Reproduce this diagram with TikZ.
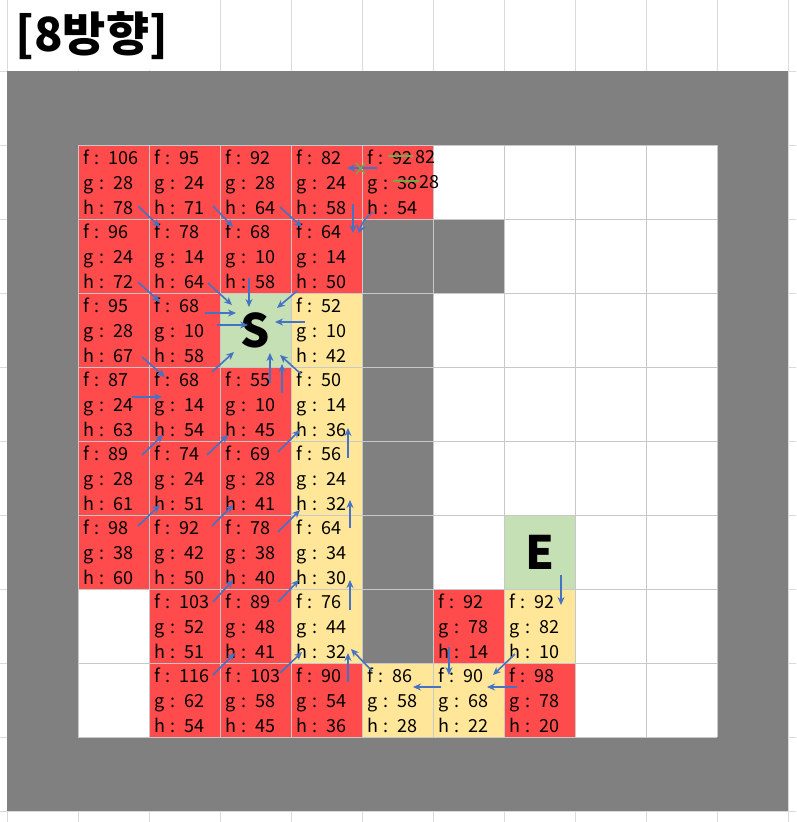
\documentclass[tikz,border=0pt]{standalone}
\usepackage{fontspec}
\setmainfont{Noto Sans CJK KR}
\usetikzlibrary{arrows.meta}

\definecolor{cellred}{RGB}{255,75,75}
\definecolor{cellyellow}{RGB}{255,230,153}
\definecolor{cellgreen}{RGB}{197,224,180}
\definecolor{wallgray}{RGB}{128,128,128}
\definecolor{linegray}{RGB}{200,200,200}
\definecolor{sheetgray}{RGB}{218,218,218}
\definecolor{arrowblue}{RGB}{68,114,196}
\definecolor{markgreen}{RGB}{112,173,71}

\newcommand{\fgh}[3]{f : #1\\g : #2\\h : #3}

\tikzset{
  vals/.style={draw=linegray, line width=0.8pt, inner xsep=5pt, inner ysep=0pt,
    text width=61pt, align=left, text height=19.5pt, text depth=54.5pt,
    font=\fontsize{18}{25}\selectfont},
  redcell/.style={vals, fill=cellred},
  yelcell/.style={vals, fill=cellyellow},
  endcell/.style={draw=linegray, line width=0.8pt, fill=cellgreen, inner sep=0pt,
    minimum width=71pt, minimum height=74pt, font=\fontsize{46}{46}\bfseries},
  wall/.style={draw=linegray, line width=0.8pt, fill=wallgray, inner sep=0pt,
    minimum width=71pt, minimum height=74pt},
  toparent/.style={draw=arrowblue, line width=1.6pt, -{Stealth[length=8pt,width=7pt]}},
  strike/.style={draw=markgreen, line width=1.3pt}
}

\begin{document}
\begin{tikzpicture}[x=1pt,y=-1pt]
\useasboundingbox (0,0) rectangle (796,822);

% sheet
\foreach \i in {0,...,11} \draw[sheetgray] (7+71*\i,0) -- (7+71*\i,822);
\foreach \j in {0,...,10} \draw[sheetgray] (0,71+74*\j) -- (796,71+74*\j);
\fill[white] (7.6,0) rectangle (219.4,70.4);
\node[font=\fontsize{47}{47}\bfseries, anchor=west] (title) at (12,36) {[8방향]};

% map
\fill[wallgray] (7,71) rectangle (788,811);
\fill[white] (78,145) rectangle (717,737);
\foreach \i in {0,...,9} \draw[linegray, line width=0.8pt] (78+71*\i,145) -- (78+71*\i,737);
\foreach \j in {0,...,8} \draw[linegray, line width=0.8pt] (78,145+74*\j) -- (717,145+74*\j);

\node[wall] (w41) at (397.5,256) {};
\node[wall] (w51) at (468.5,256) {};
\node[wall] (w42) at (397.5,330) {};
\node[wall] (w43) at (397.5,404) {};
\node[wall] (w44) at (397.5,478) {};
\node[wall] (w45) at (397.5,552) {};
\node[wall] (w46) at (397.5,626) {};

\node[endcell] (start) at (255.5,330) {S};
\node[endcell] (goal) at (539.5,552) {E};

% row 0
\node[redcell] (c00) at (113.5,182) {\fgh{106}{28}{78}};
\node[redcell] (c10) at (184.5,182) {\fgh{95}{24}{71}};
\node[redcell] (c20) at (255.5,182) {\fgh{92}{28}{64}};
\node[redcell] (c30) at (326.5,182) {\fgh{82}{24}{58}};
\node[redcell] (c40) at (397.5,182) {\fgh{92}{38}{54}};
% row 1
\node[redcell] (c01) at (113.5,256) {\fgh{96}{24}{72}};
\node[redcell] (c11) at (184.5,256) {\fgh{78}{14}{64}};
\node[redcell] (c21) at (255.5,256) {\fgh{68}{10}{58}};
\node[redcell] (c31) at (326.5,256) {\fgh{64}{14}{50}};
% row 2
\node[redcell] (c02) at (113.5,330) {\fgh{95}{28}{67}};
\node[redcell] (c12) at (184.5,330) {\fgh{68}{10}{58}};
\node[yelcell] (c32) at (326.5,330) {\fgh{52}{10}{42}};
% row 3
\node[redcell] (c03) at (113.5,404) {\fgh{87}{24}{63}};
\node[redcell] (c13) at (184.5,404) {\fgh{68}{14}{54}};
\node[redcell] (c23) at (255.5,404) {\fgh{55}{10}{45}};
\node[yelcell] (c33) at (326.5,404) {\fgh{50}{14}{36}};
% row 4
\node[redcell] (c04) at (113.5,478) {\fgh{89}{28}{61}};
\node[redcell] (c14) at (184.5,478) {\fgh{74}{24}{51}};
\node[redcell] (c24) at (255.5,478) {\fgh{69}{28}{41}};
\node[yelcell] (c34) at (326.5,478) {\fgh{56}{24}{32}};
% row 5
\node[redcell] (c05) at (113.5,552) {\fgh{98}{38}{60}};
\node[redcell] (c15) at (184.5,552) {\fgh{92}{42}{50}};
\node[redcell] (c25) at (255.5,552) {\fgh{78}{38}{40}};
\node[yelcell] (c35) at (326.5,552) {\fgh{64}{34}{30}};
% row 6
\node[redcell] (c16) at (184.5,626) {\fgh{103}{52}{51}};
\node[redcell] (c26) at (255.5,626) {\fgh{89}{48}{41}};
\node[yelcell] (c36) at (326.5,626) {\fgh{76}{44}{32}};
\node[redcell] (c56) at (468.5,626) {\fgh{92}{78}{14}};
\node[yelcell] (c66) at (539.5,626) {\fgh{92}{82}{10}};
% row 7
\node[redcell] (c17) at (184.5,700) {\fgh{116}{62}{54}};
\node[redcell] (c27) at (255.5,700) {\fgh{103}{58}{45}};
\node[redcell] (c37) at (326.5,700) {\fgh{90}{54}{36}};
\node[yelcell] (c47) at (397.5,700) {\fgh{86}{58}{28}};
\node[yelcell] (c57) at (468.5,700) {\fgh{90}{68}{22}};
\node[redcell] (c67) at (539.5,700) {\fgh{98}{78}{20}};

% corrected values
\draw[strike] ([shift={(-9.5,-26)}]c40.center) -- ([shift={(15.5,-26)}]c40.center);
\draw[strike] ([shift={(-4.5,-1)}]c40.center) -- ([shift={(21.5,-1)}]c40.center);
\node[font=\fontsize{18}{18}\selectfont] (newf) at (425,157) {82};
\node[font=\fontsize{18}{18}\selectfont] (newg) at (429,182) {28};
\draw[toparent] ([shift={(-20.5,-14)}]c40.center) -- ([shift={(20.5,-14)}]c30.center);
\draw[strike] ([shift={(-41.5,-19)}]c40.center) -- ([shift={(-32.5,-8)}]c40.center);
\draw[strike] ([shift={(-41.5,-8)}]c40.center) -- ([shift={(-32.5,-19)}]c40.center);
\draw[draw=arrowblue, line width=1.4pt, -{Straight Barb[length=6pt,width=8pt]}]
  ([shift={(-24.5,30)}]c40.center) to[bend right=20] ([shift={(32.5,-23)}]c31.center);

% parents
\draw[toparent] ([shift={(24.5,24)}]c00.center) -- ([shift={(-24.5,-29)}]c11.center);
\draw[toparent] ([shift={(28.5,24)}]c10.center) -- ([shift={(-22.5,-29)}]c21.center);
\draw[toparent] ([shift={(24.5,25)}]c20.center) -- ([shift={(-24.5,-29)}]c31.center);
\draw[toparent] ([shift={(26.5,22)}]c30.center) -- ([shift={(26.5,-23)}]c31.center);
\draw[toparent] ([shift={(24.5,26)}]c01.center) -- ([shift={(-24.5,-28)}]c12.center);
\draw[toparent] ([shift={(23.5,27)}]c11.center) -- ([shift={(-23.5,-25)}]start.center);
\draw[toparent] ([shift={(-6.5,22)}]c21.center) -- ([shift={(-6.5,-23)}]start.center);
\draw[toparent] ([shift={(-29.5,35)}]c31.center) -- ([shift={(21.5,-22)}]start.center);
\draw[toparent] ([shift={(20.5,-17)}]c12.center) -- ([shift={(-19.5,-17)}]start.center);
\draw[toparent] ([shift={(32.5,-5)}]c12.center) -- ([shift={(-7.5,-5)}]start.center);
\draw[toparent] ([shift={(-21.5,-8)}]c32.center) -- ([shift={(19.5,-8)}]start.center);
\draw[toparent] ([shift={(28.5,27)}]c02.center) -- ([shift={(-19.5,-27)}]c13.center);
\draw[toparent] ([shift={(27.5,-32)}]c13.center) -- ([shift={(-21.5,22)}]start.center);
\draw[toparent] ([shift={(14.5,-21)}]c23.center) -- ([shift={(14.5,23)}]start.center);
\draw[toparent] ([shift={(26.5,-11)}]c23.center) -- ([shift={(26.5,34)}]start.center);
\draw[toparent] ([shift={(-25.5,-30)}]c33.center) -- ([shift={(24.5,25)}]start.center);
\draw[toparent] ([shift={(18.5,-7)}]c03.center) -- ([shift={(-22.5,-7)}]c13.center);
\draw[toparent] ([shift={(21.5,-20)}]c34.center) -- ([shift={(21.5,24)}]c33.center);
\draw[toparent] ([shift={(28.5,-23)}]c04.center) -- ([shift={(-21.5,31)}]c13.center);
\draw[toparent] ([shift={(22.5,-23)}]c14.center) -- ([shift={(-27.5,31)}]c23.center);
\draw[toparent] ([shift={(22.5,-26)}]c24.center) -- ([shift={(-26.5,26)}]c33.center);
\draw[toparent] ([shift={(24.5,-26)}]c05.center) -- ([shift={(-24.5,27)}]c14.center);
\draw[toparent] ([shift={(27.5,-26)}]c15.center) -- ([shift={(-22.5,27)}]c24.center);
\draw[toparent] ([shift={(22.5,-20)}]c25.center) -- ([shift={(-26.5,32)}]c34.center);
\draw[toparent] ([shift={(23.5,-24)}]c35.center) -- ([shift={(23.5,22)}]c34.center);
\draw[toparent] ([shift={(28.5,-24)}]c16.center) -- ([shift={(-22.5,28)}]c25.center);
\draw[toparent] ([shift={(22.5,-24)}]c26.center) -- ([shift={(-27.5,28)}]c35.center);
\draw[toparent] ([shift={(23.5,-16)}]c36.center) -- ([shift={(23.5,28)}]c35.center);
\draw[toparent] ([shift={(28.5,-25)}]c17.center) -- ([shift={(-20.5,27)}]c26.center);
\draw[toparent] ([shift={(24.5,-27)}]c27.center) -- ([shift={(-24.5,26)}]c36.center);
\draw[toparent] ([shift={(21.5,-18)}]c37.center) -- ([shift={(21.5,27)}]c36.center);
\draw[toparent] ([shift={(-25.5,-29)}]c47.center) -- ([shift={(24.5,23)}]c36.center);
\draw[toparent] ([shift={(-27.5,-13)}]c57.center) -- ([shift={(15.5,-13)}]c47.center);
\draw[toparent] ([shift={(-22.5,-13)}]c67.center) -- ([shift={(18.5,-13)}]c57.center);
\draw[toparent] ([shift={(-19.5,21)}]c56.center) -- ([shift={(-19.5,-25)}]c57.center);
\draw[toparent] ([shift={(-24.5,28)}]c66.center) -- ([shift={(24.5,-25)}]c57.center);
\draw[toparent] ([shift={(21.5,23)}]goal.center) -- ([shift={(21.5,-21)}]c66.center);

\end{tikzpicture}
\end{document}
